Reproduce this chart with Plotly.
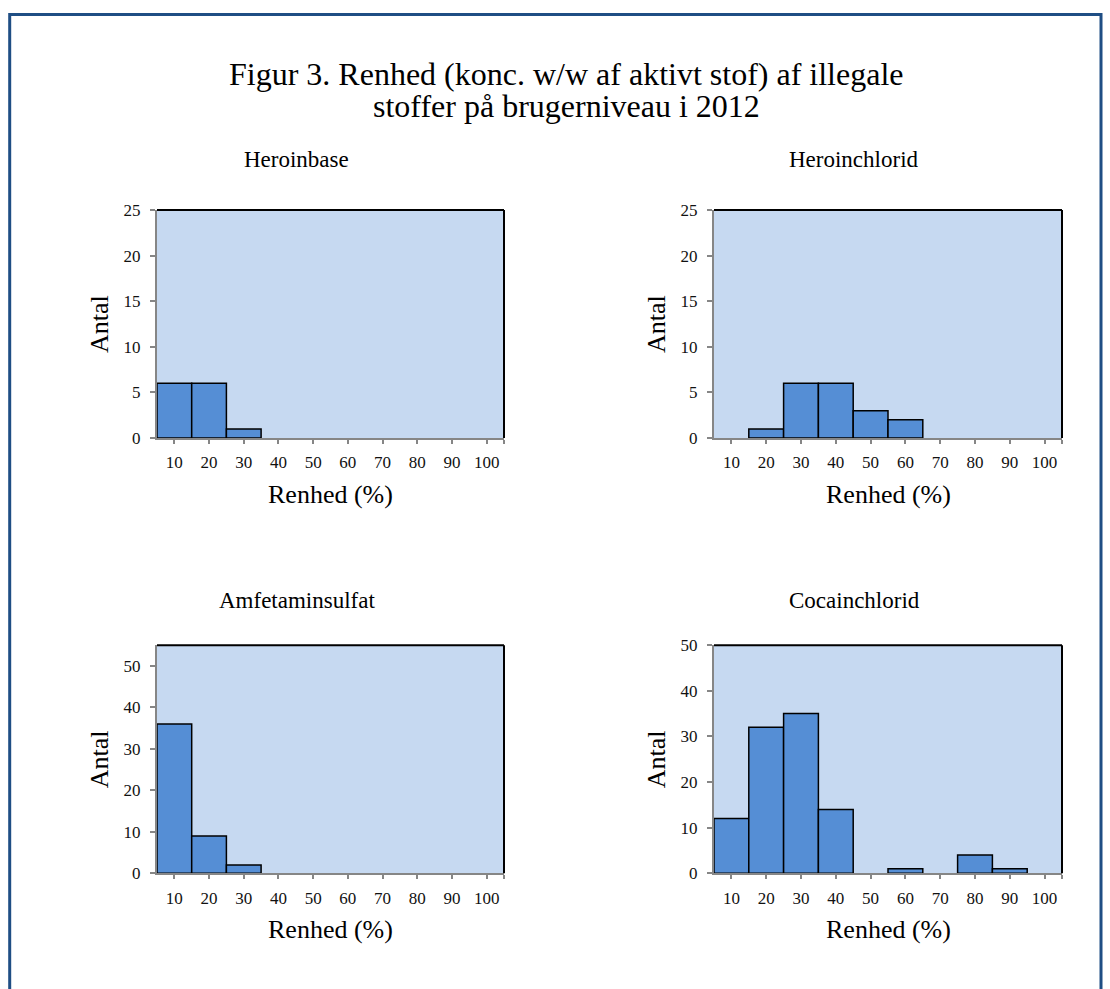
import plotly.graph_objects as go

# ---------------- data ----------------
bins = [10, 20, 30, 40, 50, 60, 70, 80, 90, 100]
tick_labels = ["10", "20", "30", "40", "50", "60", "70", "80", "90", "100"]
heroinbase = [6, 6, 1, 0, 0, 0, 0, 0, 0, 0]
heroinchlorid = [0, 1, 6, 6, 3, 2, 0, 0, 0, 0]
amfetaminsulfat = [36, 9, 2, 0, 0, 0, 0, 0, 0, 0]
cocainchlorid = [12, 32, 35, 14, 0, 1, 0, 4, 1, 0]
panel_titles = ["Heroinbase", "Heroinchlorid", "Amfetaminsulfat", "Cocainchlorid"]
y_max = [25, 25, 55, 50]
y_ticks = [[0, 5, 10, 15, 20, 25], [0, 5, 10, 15, 20, 25],
           [0, 10, 20, 30, 40, 50], [0, 10, 20, 30, 40, 50]]
title_lines = ["Figur 3. Renhed (konc. w/w af aktivt stof) af illegale",
               "stoffer på brugerniveau i 2012"]
x_title = "Renhed (%)"
y_title = "Antal"

# ---------------- layout helpers ----------------
W, H = 1110, 989
FONT = "Liberation Serif"
BAR = "#558ED5"
BG = "#C6D9F1"
GRAY = "#868686"


def px(x):
    return x / W


def py(y):
    # target pixel row -> paper fraction (compensates the page photo's vertical mapping)
    return 1 - ((y - 8.1) / 0.9804) / H


# plot-area pixel boxes (left, right, top, bottom)
boxes = [(157, 504, 209, 437), (714, 1062, 209, 437),
         (157, 504, 644, 872), (714, 1062, 644, 872)]
title_gap = [50, 50, 45, 45]
series = [heroinbase, heroinchlorid, amfetaminsulfat, cocainchlorid]

fig = go.Figure()
layout = dict(
    width=W, height=H,
    margin=dict(l=0, r=0, t=0, b=0),
    paper_bgcolor="white", plot_bgcolor=BG,
    showlegend=False,
    font=dict(family=FONT, color="black"),
)
shapes = []
annotations = []

for i, (vals, box) in enumerate(zip(series, boxes)):
    n = "" if i == 0 else str(i + 1)
    l, r, t, b = box
    fig.add_trace(go.Bar(
        x=bins, y=[v if v else None for v in vals], width=10,
        marker=dict(color=BAR, line=dict(color="black", width=1.5)),
        xaxis="x" + n, yaxis="y" + n, hoverinfo="x+y",
    ))
    layout["xaxis" + n] = dict(
        domain=[px(l), px(r)], anchor="y" + n, range=[5, 105],
        tickmode="array", tickvals=bins + [105], ticktext=tick_labels + [""],
        ticks="outside", ticklen=4, tickwidth=1.5, tickcolor=GRAY,
        showline=True, linecolor=GRAY, linewidth=2,
        showgrid=False, zeroline=False, ticklabelstandoff=4,
        tickfont=dict(family=FONT, size=17, color="#111"),
    )
    layout["yaxis" + n] = dict(
        domain=[py(b), py(t)], anchor="x" + n, range=[0, y_max[i]],
        tickmode="array", tickvals=y_ticks[i],
        ticks="outside", ticklen=5, tickwidth=1.5, tickcolor=GRAY,
        showline=True, linecolor=GRAY, linewidth=2,
        showgrid=False, zeroline=False, ticklabelstandoff=6,
        tickfont=dict(family=FONT, size=17, color="#111"),
    )
    # black top and right border of plot area
    shapes.append(dict(type="line", xref="x" + n + " domain", yref="y" + n + " domain",
                       x0=0, x1=1, y0=1, y1=1, line=dict(color="black", width=2)))
    shapes.append(dict(type="line", xref="x" + n + " domain", yref="y" + n + " domain",
                       x0=1, x1=1, y0=0, y1=1, line=dict(color="black", width=2)))
    cx = (l + r) / 2
    cy = (t + b) / 2
    # panel title
    annotations.append(dict(text=panel_titles[i], xref="paper", yref="paper",
                            x=px(cx - 34), y=py(t - title_gap[i]), xanchor="center", yanchor="middle",
                            showarrow=False, font=dict(family=FONT, size=23, color="black")))
    # x axis title
    annotations.append(dict(text=x_title, xref="paper", yref="paper",
                            x=px(cx), y=py(b + 56), xanchor="center", yanchor="middle",
                            showarrow=False, font=dict(family=FONT, size=26, color="black")))
    # y axis title
    annotations.append(dict(text=y_title, xref="paper", yref="paper",
                            x=px(l - 58), y=py(cy), xanchor="center", yanchor="middle",
                            textangle=-90,
                            showarrow=False, font=dict(family=FONT, size=26, color="black")))

for line, yc in zip(title_lines, [73, 105]):
    annotations.append(dict(text=line, xref="paper", yref="paper",
                            x=px(566), y=py(yc), xanchor="center", yanchor="middle",
                            showarrow=False, font=dict(family=FONT, size=32, color="black")))

# outer frame (dark blue), open at the bottom
shapes.append(dict(type="path", xref="paper", yref="paper",
                   path=f"M {px(9.7)} {py(1010)} L {px(9.7)} {py(13.7)} L {px(1101)} {py(13.7)} L {px(1101)} {py(1010)}",
                   line=dict(color="#1F4E84", width=3)))

layout["shapes"] = shapes
layout["annotations"] = annotations
fig.update_layout(**layout)
fig.write_html(
    "out.html",
    config={"displayModeBar": False},
    post_script=(
        "document.documentElement.style.margin='0';"
        "document.documentElement.style.overflow='hidden';"
        "document.body.style.margin='0';document.body.style.overflow='hidden';"
        "var d=document.getElementsByClassName('plotly-graph-div')[0];"
        "d.style.position='fixed';d.style.top='0px';d.style.left='0px';"
    ),
)
